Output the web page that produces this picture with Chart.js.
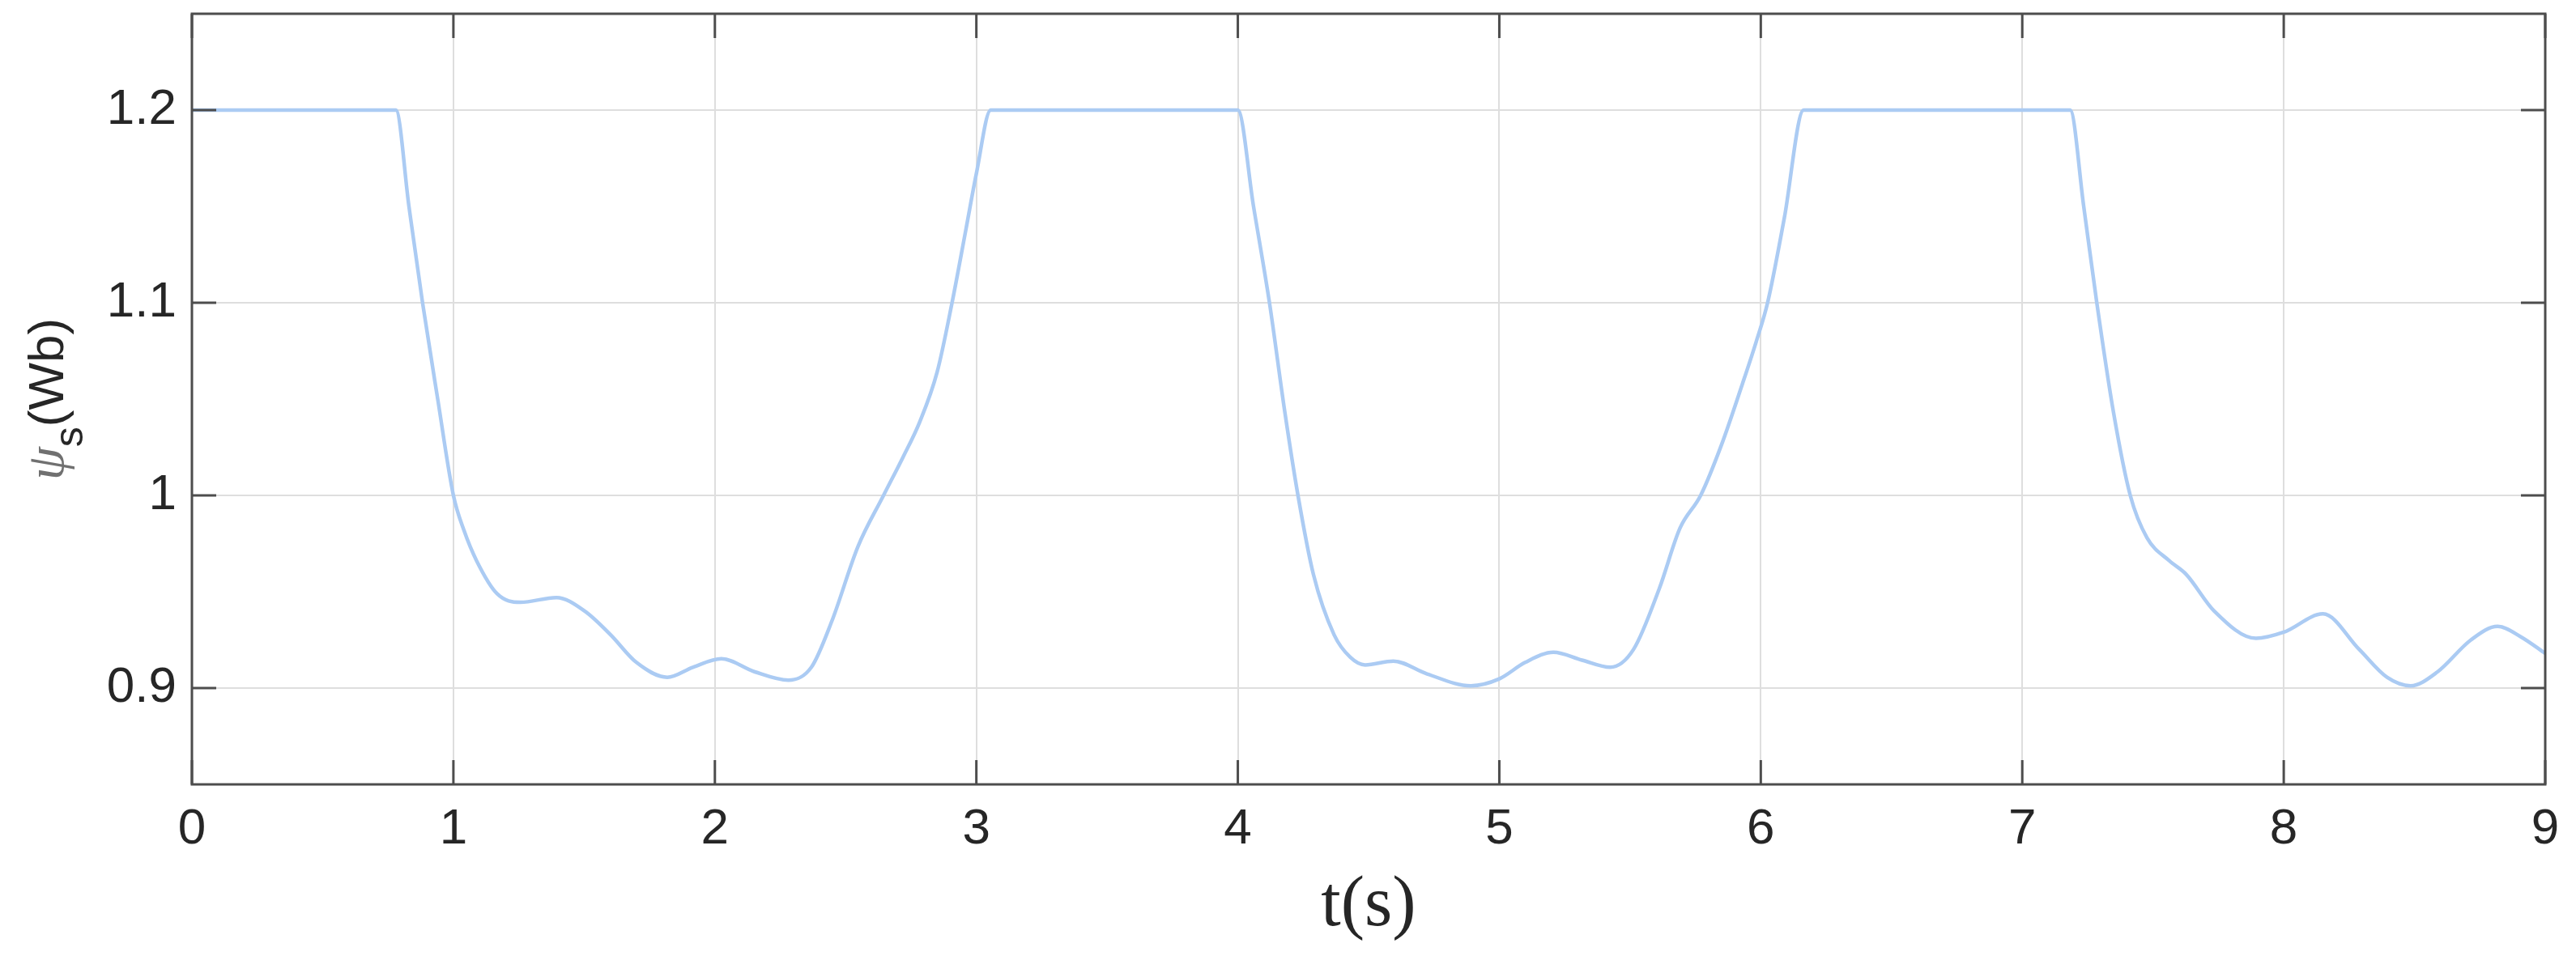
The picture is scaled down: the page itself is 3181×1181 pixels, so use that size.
<!DOCTYPE html>
<html lang="en">
<head>
  <meta charset="UTF-8">
  <title>Stator flux ψs over time</title>
  <style>
    body { margin: 0; background: #fff; }
    #wrap { width: 3181px; height: 1181px; position: relative; }
  </style>
  <script src="https://cdn.jsdelivr.net/npm/chart.js"></script>
</head>
<body>
  <div id="wrap"><canvas id="fluxChart"></canvas></div>

  <script>
    // values
    const timeValues = [
      0, 0.78, 0.83, 0.882, 0.94, 1.0, 1.04, 1.089, 1.167, 1.256,
      1.394, 1.502, 1.601, 1.70, 1.818, 1.916, 2.025, 2.153, 2.281, 2.369,
      2.448, 2.547, 2.645, 2.72, 2.783, 2.85, 2.907, 2.96, 3.0, 3.055,
      4.0, 4.06, 4.121, 4.18, 4.23, 4.289, 4.368, 4.43, 4.487, 4.595,
      4.724, 4.891, 5.0, 5.099, 5.207, 5.316, 5.424, 5.513, 5.612, 5.691,
      5.77, 5.849, 5.93, 5.983, 6.026, 6.09, 6.164, 7.183, 7.235, 7.285,
      7.349, 7.413, 7.477, 7.563, 7.627, 7.734, 7.894, 8.0, 8.15, 8.289,
      8.395, 8.485, 8.588, 8.716, 8.818, 8.908, 9.0
    ];
    const fluxValues = [
      1.2, 1.2, 1.15, 1.1, 1.05, 1.0, 0.982, 0.966, 0.949, 0.9445,
      0.947, 0.940, 0.9277, 0.9133, 0.9056, 0.9108, 0.9152, 0.9084, 0.9041, 0.9108,
      0.935, 0.9734, 1.0, 1.02, 1.038, 1.064, 1.1, 1.138, 1.167, 1.2,
      1.2, 1.15, 1.1, 1.043, 1.0, 0.959, 0.9277, 0.916, 0.912, 0.914,
      0.9073, 0.9012, 0.9048, 0.9133, 0.9186, 0.9145, 0.9108, 0.920, 0.9517, 0.983,
      1.0, 1.026, 1.058, 1.08, 1.1, 1.144, 1.2, 1.2, 1.15, 1.1,
      1.043, 1.0, 0.978, 0.966, 0.959, 0.940, 0.9258, 0.929, 0.9385, 0.920,
      0.9056, 0.9012, 0.9084, 0.925, 0.932, 0.9265, 0.918
    ];
    const xTicks = [0, 1, 2, 3, 4, 5, 6, 7, 8, 9];
    const yTicks = [0.9, 1, 1.1, 1.2];

    const axisColor = '#4d4d4d';
    const textColor = '#262626';

    // MATLAB style box with inward ticks on all four sides
    const boxPlugin = {
      id: 'box',
      afterDatasetsDraw(chart) {
        const { ctx, chartArea: a, scales } = chart;
        const len = 30;
        ctx.save();
        ctx.strokeStyle = axisColor;
        ctx.lineWidth = 3;
        ctx.beginPath();
        xTicks.forEach(v => {
          const px = scales.x.getPixelForValue(v);
          ctx.moveTo(px, a.bottom); ctx.lineTo(px, a.bottom - len);
          ctx.moveTo(px, a.top); ctx.lineTo(px, a.top + len);
        });
        yTicks.forEach(v => {
          const py = scales.y.getPixelForValue(v);
          ctx.moveTo(a.left, py); ctx.lineTo(a.left + len, py);
          ctx.moveTo(a.right, py); ctx.lineTo(a.right - len, py);
        });
        ctx.stroke();
        ctx.strokeRect(a.left, a.top, a.right - a.left, a.bottom - a.top);
        ctx.restore();
      }
    };

    // y title: psi with subscript s, rotated
    const yTitlePlugin = {
      id: 'yTitle',
      afterDraw(chart) {
        const { ctx, chartArea: a } = chart;
        const parts = [
          { t: 'ψ', font: 'italic 66px "Liberation Serif"', color: '#707070', dy: 0 },
          { t: 's', font: '50px "Liberation Sans"', color: textColor, dy: 24 },
          { t: '(Wb)', font: '62px "Liberation Sans"', color: textColor, dy: 0 }
        ];
        ctx.save();
        let total = 0;
        parts.forEach(p => { ctx.font = p.font; p.w = ctx.measureText(p.t).width; total += p.w; });
        ctx.translate(78, (a.top + a.bottom) / 2);
        ctx.rotate(-Math.PI / 2);
        ctx.textBaseline = 'alphabetic';
        ctx.textAlign = 'left';
        let x = -total / 2;
        parts.forEach(p => {
          ctx.font = p.font;
          ctx.fillStyle = p.color;
          ctx.fillText(p.t, x, p.dy);
          x += p.w;
        });
        ctx.restore();
      }
    };

    const ctx = document.getElementById('fluxChart').getContext('2d');
    new Chart(ctx, {
      type: 'line',
      data: {
        datasets: [{
          data: timeValues.map((t, i) => ({ x: t, y: fluxValues[i] })),
          borderColor: '#abcbf3',
          borderWidth: 4.5,
          pointRadius: 0,
          cubicInterpolationMode: 'monotone',
          fill: false
        }]
      },
      options: {
        responsive: true,
        maintainAspectRatio: false,
        devicePixelRatio: 1,
        animation: false,
        layout: { padding: { top: 17, right: 38, left: 0, bottom: 0 } },
        plugins: { legend: { display: false }, tooltip: { enabled: false } },
        scales: {
          x: {
            type: 'linear', min: 0, max: 9,
            afterBuildTicks: s => { s.ticks = xTicks.map(v => ({ value: v })); },
            afterFit: s => { s.height = 212; s.paddingLeft = 0; s.paddingRight = 0; },
            grid: { color: '#dedede', lineWidth: 2, drawTicks: false },
            border: { display: false },
            ticks: {
              color: textColor, padding: 19, maxRotation: 0,
              font: { family: 'Liberation Sans', size: 62 },
              callback: v => String(v)
            },
            title: {
              display: true, text: 't(s)', color: textColor,
              font: { family: 'Liberation Serif', size: 88 },
              padding: { top: 0, bottom: 8 }
            }
          },
          y: {
            type: 'linear', min: 0.85, max: 1.25,
            afterBuildTicks: s => { s.ticks = yTicks.map(v => ({ value: v })); },
            afterFit: s => { s.width = 237; s.paddingTop = 0; s.paddingBottom = 0; },
            grid: { color: '#dedede', lineWidth: 2, drawTicks: false },
            border: { display: false },
            ticks: {
              color: textColor, padding: 19,
              font: { family: 'Liberation Sans', size: 62 },
              callback: v => String(Math.round(v * 10) / 10)
            }
          }
        }
      },
      plugins: [boxPlugin, yTitlePlugin]
    });
  </script>
</body>
</html>
